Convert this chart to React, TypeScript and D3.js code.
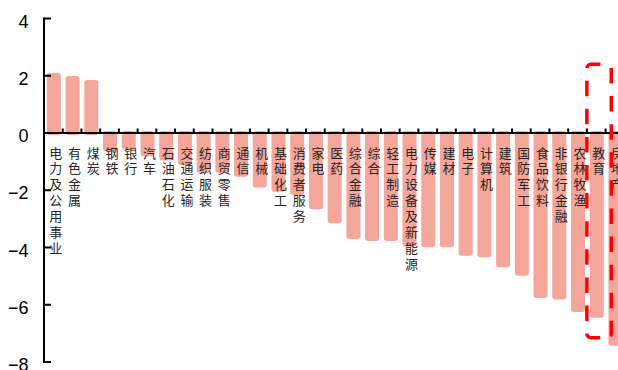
import React from 'react';
import * as d3 from 'd3';

const categories = ['电力及公用事业','有色金属','煤炭','钢铁','银行','汽车','石油石化','交通运输','纺织服装','商贸零售','通信','机械','基础化工','消费者服务','家电','医药','综合金融','综合','轻工制造','电力设备及新能源','传媒','建材','电子','计算机','建筑','国防军工','食品饮料','非银行金融','农林牧渔','教育','房地产'];
const values = [2.03,1.92,1.78,-0.58,-0.5,-0.74,-0.89,-1.05,-1.32,-1.32,-1.46,-1.83,-1.98,-2.1,-2.59,-3.08,-3.63,-3.7,-3.7,-3.9,-3.92,-3.92,-4.22,-4.27,-4.62,-4.92,-5.69,-5.75,-6.18,-6.38,-7.36];
const yTicks = [4, 2, 0, -2, -4, -6, -8];
const highlightFrom = '教育';
const highlightTo = '房地产';

const W = 618, H = 370;
const X0 = 44;
const STEP = 18.72;

export default function App() {
  const x = d3.scaleBand<string>().domain(categories).range([X0, X0 + STEP * categories.length]).paddingInner(0).paddingOuter(0);
  const y = d3.scaleLinear().domain([-8, 4]).range([362, 18.5]);
  const fmt = d3.format('d');
  const bw = x.bandwidth();
  const barW = 14;
  const ext = 2;
  const y0 = y(0);

  const hx0 = x(highlightFrom)!;
  const hx1 = x(highlightTo)! + 5.7;
  const hy0 = y(2.4);
  const hy1 = y(-7.15);
  const r = 4;
  const hp = `M${hx0 + 13.3},${hy1} H${hx0 + r} A${r},${r} 0 0 1 ${hx0},${hy1 - r} V${hy0 + r} A${r},${r} 0 0 1 ${hx0 + r},${hy0} H${hx1 - r} A${r},${r} 0 0 1 ${hx1},${hy0 + r} V${hy1 - r} A${r},${r} 0 0 1 ${hx1 - r},${hy1} Z`;

  return (
    <svg width={W} height={H} style={{ position: 'fixed', left: 0, top: 0, background: '#fff' }}>
      <rect x={0} y={0} width={W} height={H} fill="#fff" />
      {categories.map((c, i) => {
        const v = values[i];
        const cx = x(c)! + bw / 2 + 0.5;
        const top = Math.min(y(v), y0) - ext;
        const bot = Math.max(y(v), y0) + ext;
        return <rect key={c} x={cx - barW / 2} y={top} width={barW} height={bot - top} rx={3} ry={3} fill="#F4A69B" />;
      })}
      <line x1={X0} x2={W + 10} y1={y0} y2={y0} stroke="#000" strokeWidth={2} />
      {categories.slice(1).map(c => (
        <line key={'t' + c} x1={x(c)!} x2={x(c)!} y1={y0} y2={y0 - 4.5} stroke="#000" strokeWidth={2} />
      ))}
      <line x1={X0} x2={X0} y1={y(4) - 1} y2={y(-8) + 1} stroke="#000" strokeWidth={2} />
      {yTicks.map(t => (
        <g key={'y' + t}>
          <line x1={X0} x2={X0 + 7} y1={y(t)} y2={y(t)} stroke="#000" strokeWidth={2} />
          <text x={28.5} y={y(t) + 9} textAnchor="end" fontFamily="'Liberation Sans', Arial, sans-serif" fontSize={18} fill="#000">{fmt(t)}</text>
        </g>
      ))}
      {categories.map(c => {
        const cx = x(c)! + bw / 2 + 2.5;
        return (
          <text key={'l' + c} x={cx} y={151.5} textAnchor="middle" dominantBaseline="central" fontFamily="'Noto Sans CJK SC', sans-serif" fontSize={13} fill="#262626">
            {Array.from(c).map((ch, j) => (
              <tspan key={j} x={cx} y={151.5 + j * 15.9} dominantBaseline="central">{ch}</tspan>
            ))}
          </text>
        );
      })}
      <path d={hp} fill="none" stroke="#FF0000" strokeWidth={3.5} strokeDasharray="15.5 12.6" />
    </svg>
  );
}
